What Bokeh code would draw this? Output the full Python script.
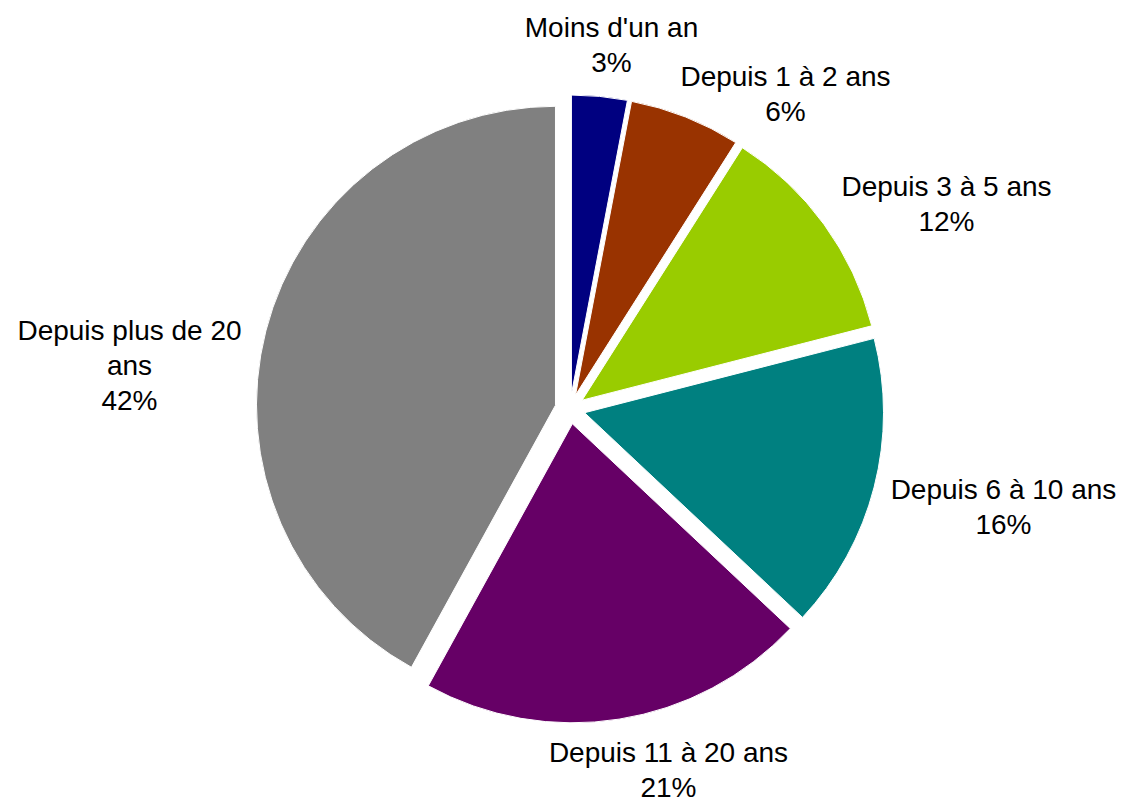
import math
from bokeh.plotting import figure
from bokeh.models import Range1d
from bokeh.embed import file_html
from bokeh.resources import INLINE
from bokeh.core.properties import value

# ---- data ----
categories = ["Moins d'un an", "Depuis 1 à 2 ans", "Depuis 3 à 5 ans",
              "Depuis 6 à 10 ans", "Depuis 11 à 20 ans", "Depuis plus de 20 ans"]
percent = [3, 6, 12, 16, 21, 42]
colors = ["#000080", "#993300", "#99CC00", "#008080", "#660066", "#808080"]

# ---- layout ----
W, H = 1124, 802
OFF = 0  # offset between picture pixels and figure pixels
center_page = (569.5, 408.5)
R = 299
explode = 15
label_page = [(611, 44.5), (785, 93.5), (946, 203), (1003, 506.5), (668, 769), (129, 365)]
wrap = {"Depuis plus de 20 ans": ["Depuis plus de 20", "ans"]}
line_gap = 35
FONT = "Liberation Sans"
FSIZE = "28px"


def to_data(px, py):
    return px - OFF, H - (py - OFF)


cx, cy = to_data(*center_page)

p = figure(width=W, height=H, x_range=Range1d(0, W), y_range=Range1d(0, H),
           x_axis_type=None, y_axis_type=None, output_backend="svg",
           toolbar_location=None, min_border=0)
p.grid.visible = False
p.outline_line_color = None
p.background_fill_color = "white"
p.border_fill_color = "white"

total = sum(percent)
acc = 0.0
xs, ys, starts, ends = [], [], [], []
for v in percent:
    a0 = acc / total * 2 * math.pi
    acc += v
    a1 = acc / total * 2 * math.pi
    mid = (a0 + a1) / 2
    ang = math.pi / 2 - mid
    xs.append(cx + explode * math.cos(ang))
    ys.append(cy + explode * math.sin(ang))
    starts.append(math.pi / 2 - a0)
    ends.append(math.pi / 2 - a1)

p.wedge(x=xs, y=ys, radius=R, start_angle=starts, end_angle=ends,
        direction="clock", fill_color=colors, line_color="white", line_width=1)

tx, ty, tt = [], [], []
for cat, v, (lx, ly) in zip(categories, percent, label_page):
    lines = wrap.get(cat, [cat]) + [f"{v}%"]
    n = len(lines)
    for i, t in enumerate(lines):
        py = ly + (i - (n - 1) / 2) * line_gap
        dx, dy = to_data(lx, py)
        tx.append(dx)
        ty.append(dy)
        tt.append(t)

p.text(x=tx, y=ty, text=tt, text_align="center", text_baseline="middle",
       text_font=value(FONT), text_font_size=FSIZE, text_color="black")

open("out.html", "w").write(file_html(p, INLINE))
